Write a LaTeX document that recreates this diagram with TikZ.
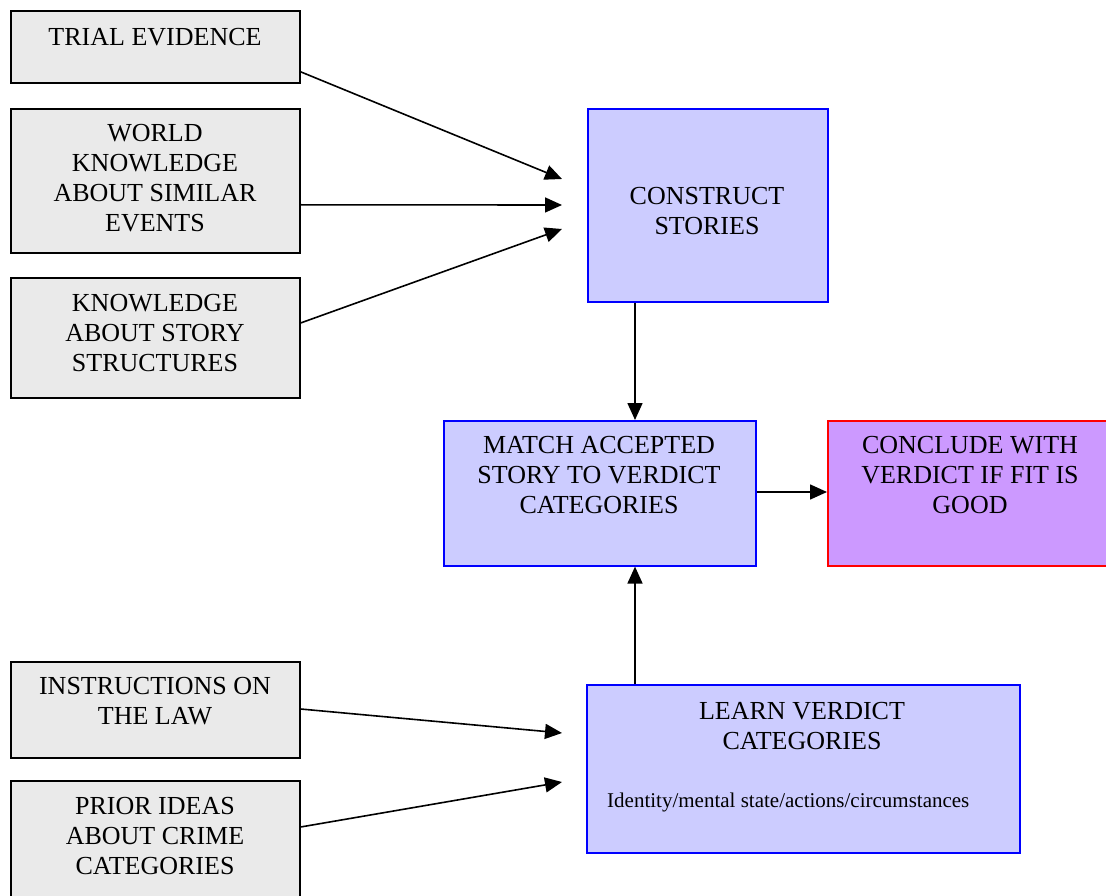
\documentclass[tikz,border=0pt]{standalone}
\usepackage{fontspec}
\setmainfont{Liberation Serif}
\usetikzlibrary{arrows.meta}
\definecolor{grayfill}{RGB}{234,234,234}
\definecolor{bluefill}{RGB}{204,204,255}
\definecolor{purplefill}{RGB}{204,153,255}
\tikzset{
  gbox/.style={draw=black, fill=grayfill, line width=1.6pt, anchor=north west, inner sep=0pt},
  bbox/.style={draw=blue, fill=bluefill, line width=1.6pt, anchor=north west, inner sep=0pt},
  rbox/.style={draw=red, fill=purplefill, line width=1.6pt, anchor=north west, inner sep=0pt},
  txt/.style={font=\fontsize{26}{30}\selectfont, align=center, anchor=north, inner sep=0pt},
  small/.style={font=\fontsize{21}{24}\selectfont, anchor=base west, inner sep=0pt},
  conn/.style={line width=1.6pt, -{Triangle[length=17pt,width=15pt]}}
}
\begin{document}
\begin{tikzpicture}[x=1pt,y=-1pt]
\useasboundingbox (0,0) rectangle (1106,896);
% left gray boxes
\node[gbox, minimum width=289pt, minimum height=72pt] (te) at (10,10) {};
\node[gbox, minimum width=289pt, minimum height=144pt] (wk) at (10,108) {};
\node[gbox, minimum width=289pt, minimum height=120pt] (ks) at (10,277) {};
\node[gbox, minimum width=289pt, minimum height=96pt] (il) at (10,661) {};
\node[gbox, minimum width=289pt, minimum height=140pt] (pi) at (10,780) {};
% process boxes
\node[bbox, minimum width=240pt, minimum height=193pt] (cs) at (587,108) {};
\node[bbox, minimum width=312pt, minimum height=145pt] (ma) at (443,420) {};
\node[rbox, minimum width=290pt, minimum height=145pt] (co) at (827,420) {};
\node[bbox, minimum width=433pt, minimum height=168pt] (lv) at (586,684) {};
% texts
\node[txt] (tte) at (155,28.5) {TRIAL EVIDENCE};
\node[txt] (twk) at (155,124.5) {WORLD\\KNOWLEDGE\\ABOUT SIMILAR\\EVENTS};
\node[txt] (tks) at (155,294.5) {KNOWLEDGE\\ABOUT STORY\\STRUCTURES};
\node[txt] (til) at (155,677.5) {INSTRUCTIONS ON\\THE LAW};
\node[txt] (tpi) at (155,797.5) {PRIOR IDEAS\\ABOUT CRIME\\CATEGORIES};
\node[txt] (tcs) at (707,187.5) {CONSTRUCT\\STORIES};
\node[txt] (tma) at (599,436.5) {MATCH ACCEPTED\\STORY TO VERDICT\\CATEGORIES};
\node[txt] (tco) at (970,436.5) {CONCLUDE WITH\\VERDICT IF FIT IS\\GOOD};
\node[txt] (tlv) at (802,702.5) {LEARN VERDICT\\CATEGORIES};
\node[small] (tid) at (607,807) {Identity/mental state/actions/circumstances};
% arrow ends
\coordinate (e1) at (562,179);
\coordinate (e2) at (562,205);
\coordinate (e3) at (562,229);
\coordinate (e4) at (562,733);
\coordinate (e5) at (562,782);
% connectors
\draw[conn] ([yshift=-25pt]te.east) -- (e1);
\draw[conn] ([yshift=-24pt]wk.east) -- (e2);
\draw[conn] ([yshift=-46pt]ks.north east) -- (e3);
\draw[conn] ([yshift=-48pt]il.north east) -- (e4);
\draw[conn] ([yshift=-47pt]pi.north east) -- (e5);
\draw[conn] (cs.south -| 635,0) -- (ma.north -| 635,0);
\draw[conn] (lv.north -| 635,0) -- (ma.south -| 635,0);
\draw[conn] ([yshift=-72pt]ma.north east) -- ([yshift=-72pt]co.north west);
\end{tikzpicture}
\end{document}
